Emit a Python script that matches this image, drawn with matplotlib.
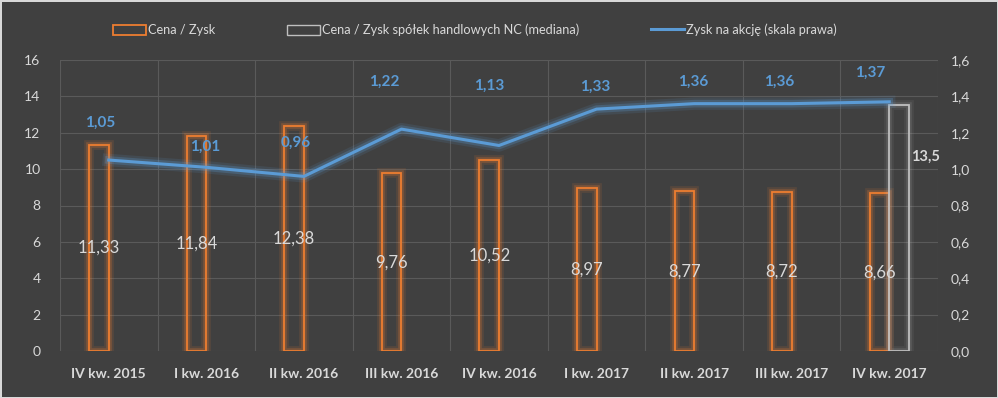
import numpy as np
from matplotlib import pyplot as plt
import matplotlib.patheffects as pe
from matplotlib.patches import Patch
from matplotlib.lines import Line2D

categories = ["IV kw. 2015", "I kw. 2016", "II kw. 2016", "III kw. 2016", "IV kw. 2016",
              "I kw. 2017", "II kw. 2017", "III kw. 2017", "IV kw. 2017"]
cena_zysk = [11.33, 11.84, 12.38, 9.76, 10.52, 8.97, 8.77, 8.72, 8.66]
mediana_nc = [0, 0, 0, 0, 0, 0, 0, 0, 13.5]
zysk_na_akcje = [1.05, 1.01, 0.96, 1.22, 1.13, 1.33, 1.36, 1.36, 1.37]

# label offsets for line values (points)
eps_dx = [-6, -1, -6, -12, -7, -1, -1, -9, -14]
eps_dy = [27, 15, 24, 34, 43, 16, 16, 16, 21]

bg = "#404040"
orange = "#ed7d31"
blue = "#5b9bd5"
grey_bar = "#bfbfbf"
txt = "#d9d9d9"

plt.rcParams["font.family"] = ["Lato", "DejaVu Sans"]

fig = plt.figure(figsize=(9.98, 3.98), dpi=100, facecolor=bg)
fig.patch.set_edgecolor("#d9d9d9")
fig.patch.set_linewidth(2)
ax = fig.add_axes([60 / 998, 47 / 398, 878 / 998, 291 / 398])
ax.set_facecolor(bg)

x = np.arange(len(categories))
w = 0.2

glow_o = [pe.Stroke(linewidth=7, foreground=orange, alpha=0.12),
          pe.Stroke(linewidth=4, foreground=orange, alpha=0.25), pe.Normal()]
glow_g = [pe.Stroke(linewidth=7, foreground=grey_bar, alpha=0.08),
          pe.Stroke(linewidth=4, foreground=grey_bar, alpha=0.15), pe.Normal()]
glow_b = [pe.Stroke(linewidth=9, foreground=blue, alpha=0.12),
          pe.Stroke(linewidth=5.5, foreground=blue, alpha=0.25), pe.Normal()]

bars1 = ax.bar(x - w / 2, cena_zysk, w, facecolor="none", edgecolor=orange, linewidth=1.3, zorder=3)
for b in bars1:
    b.set_path_effects(glow_o)
vals2 = [v if v > 0 else np.nan for v in mediana_nc]
bars2 = ax.bar(x + w / 2, vals2, w, facecolor="none", edgecolor=grey_bar, linewidth=1.3, zorder=3)
for b in bars2:
    b.set_path_effects(glow_g)

for xi, v in zip(x, cena_zysk):
    ax.text(xi - w / 2, v / 2, f"{v:.2f}".replace(".", ","), ha="center", va="center",
            color=txt, fontsize=12, zorder=5)
for xi, v in zip(x, mediana_nc):
    if v > 0:
        ax.annotate(f"{v:.1f}".replace(".", ","), (xi + w, v), xytext=(12, -37),
                    textcoords="offset points", ha="center", va="center",
                    color=txt, fontsize=10.5, fontweight="bold", zorder=5)

ax.set_xlim(-0.5, len(categories) - 0.5)
ax.set_ylim(0, 16)
ax.set_yticks(np.arange(0, 17, 2))
ax.set_xticks(x)
ax.set_xticklabels(categories, fontweight="bold", fontsize=10, color=txt)
ax.set_xticks(np.arange(-0.5, len(categories)), minor=True)
ax.tick_params(axis="x", which="both", length=0, pad=12)
ax.tick_params(axis="y", length=0, pad=14, labelcolor=txt, labelsize=10)
ax.grid(axis="y", color="#5a5a5a", linewidth=0.8, zorder=0)
ax.grid(axis="x", which="minor", color="#5a5a5a", linewidth=0.8, zorder=0)
for s in ax.spines.values():
    s.set_visible(False)

ax2 = ax.twinx()
ax2.plot(x, zysk_na_akcje, color=blue, linewidth=2.2, path_effects=glow_b, zorder=4)
for xi, v, dx, dy in zip(x, zysk_na_akcje, eps_dx, eps_dy):
    ax2.annotate(f"{v:.2f}".replace(".", ","), (xi, v), xytext=(dx, dy), textcoords="offset points",
                 ha="center", va="center", color=blue, fontsize=11, fontweight="bold")
ax2.set_ylim(0, 1.6)
ax2.set_yticks(np.arange(0, 1.61, 0.2))
ax2.set_yticklabels([f"{t:.1f}".replace(".", ",") for t in np.arange(0, 1.61, 0.2)])
ax2.tick_params(axis="y", length=0, pad=9, labelcolor=txt, labelsize=10)
for s in ax2.spines.values():
    s.set_visible(False)

handles = [Patch(facecolor="none", edgecolor=orange, linewidth=1.3),
           Patch(facecolor="none", edgecolor=grey_bar, linewidth=1),
           Line2D([], [], color=blue, linewidth=2.2)]
labels = ["Cena / Zysk", "Cena / Zysk spółek handlowych NC (mediana)", "Zysk na akcję (skala prawa)"]
leg = fig.legend(handles, labels, loc="center left", bbox_to_anchor=(113 / 998, 1 - 30 / 398),
                 ncol=3, frameon=False, fontsize=9.2, labelcolor=txt, handlelength=2.6,
                 handleheight=0.9, handletextpad=0.15, columnspacing=5.6, borderpad=0, borderaxespad=0)

fig.savefig("out.png", dpi=100, facecolor=bg, edgecolor=fig.patch.get_edgecolor())
